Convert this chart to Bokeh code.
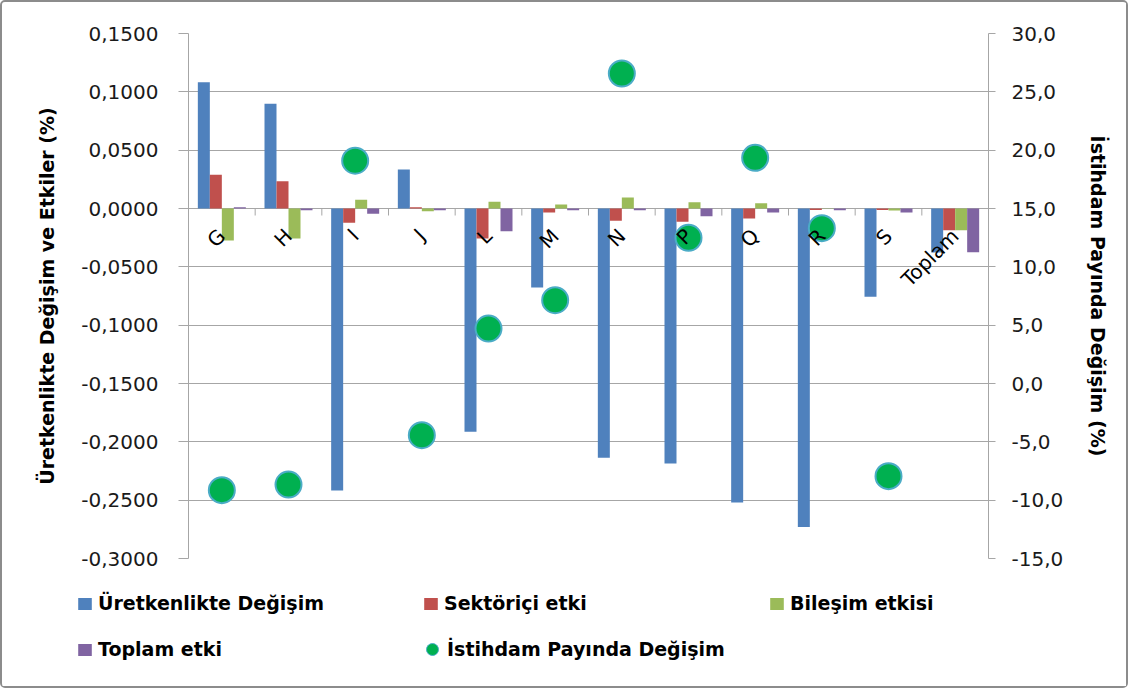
import math
from bokeh.plotting import figure
from bokeh.layouts import column
from bokeh.models import (Range1d, LinearAxis, FixedTicker, ColumnDataSource,
                          Legend, LegendItem)
from bokeh.transform import dodge
from bokeh.core.properties import value
from bokeh.embed import file_html
from bokeh.resources import INLINE

# ---------------- data ----------------
categories = ["G", "H", "I", "J", "L", "M", "N", "P", "Q", "R", "S", "Toplam"]
uretkenlik = [0.1083, 0.0897, -0.2417, 0.0334, -0.1914, -0.0677, -0.2137, -0.2186, -0.2520, -0.2729, -0.0757, -0.0377]
sektorici = [0.0289, 0.0234, -0.0123, 0.0010, -0.0257, -0.0034, -0.0106, -0.0114, -0.0086, -0.0012, -0.0012, -0.0186]
bilesim = [-0.0274, -0.0257, 0.0075, -0.0023, 0.0057, 0.0034, 0.0094, 0.0054, 0.0045, 0.0002, -0.0018, -0.0186]
toplam_etki = [0.0010, -0.0015, -0.0045, -0.0015, -0.0194, -0.0015, -0.0015, -0.0066, -0.0034, -0.0015, -0.0034, -0.0374]
istihdam = [-9.14, -8.66, 19.10, -4.43, 4.71, 7.14, 26.57, 12.49, 19.34, 13.31, -7.94, float("nan")]

left_ticks = [-0.30, -0.25, -0.20, -0.15, -0.10, -0.05, 0.0, 0.05, 0.10, 0.15]
left_labels = ["-0,3000", "-0,2500", "-0,2000", "-0,1500", "-0,1000", "-0,0500",
               "0,0000", "0,0500", "0,1000", "0,1500"]
right_ticks = [-15, -10, -5, 0, 5, 10, 15, 20, 25, 30]
right_labels = ["-15,0", "-10,0", "-5,0", "0,0", "5,0", "10,0", "15,0", "20,0", "25,0", "30,0"]

series_names = ["Üretkenlikte Değişim", "Sektöriçi etki", "Bileşim etkisi", "Toplam etki"]
scatter_name = "İstihdam Payında Değişim"
left_title = "Üretkenlikte Değişim ve Etkiler (%)"
right_title = "İstihdam Payında Değişim (%)"

# ---------------- styles ----------------
colors = ["#4F81BD", "#C0504D", "#9BBB59", "#8064A2"]
dot_fill, dot_line = "#00B050", "#4BACC6"
offsets = [-0.27, -0.09, 0.09, 0.27]
bar_w = 0.18
grid_col = "#a6a6a6"
FONT = "DejaVu Sans"

n = len(categories)
src = ColumnDataSource(dict(
    x=list(range(n)), cat=categories,
    s0=uretkenlik, s1=sektorici, s2=bilesim, s3=toplam_etki, ist=istihdam,
))

W = 1124
H1, H2 = 576, 108

p = figure(width=W, height=H1, output_backend="svg", toolbar_location=None,
           x_range=Range1d(-0.5, n - 0.5), y_range=Range1d(left_ticks[0], left_ticks[-1]),
           x_axis_location=None, min_border_left=186, min_border_top=31,
           min_border_right=138, min_border_bottom=20)
p.frame_align = False
p.outline_line_color = None
p.background_fill_color = "white"
p.border_fill_color = "white"

p.extra_y_ranges = {"right": Range1d(right_ticks[0], right_ticks[-1])}

# grid
p.xgrid.visible = False
p.ygrid.ticker = FixedTicker(ticks=left_ticks)
p.ygrid.grid_line_color = grid_col
p.ygrid.grid_line_width = 1

# left axis
ya = p.yaxis[0]
ya.ticker = FixedTicker(ticks=left_ticks)
ya.major_label_overrides = dict(zip(left_ticks, left_labels))
ya.axis_line_color = grid_col
ya.major_tick_line_color = grid_col
ya.major_tick_out = 10
ya.major_tick_in = 0
ya.minor_tick_line_color = None
ya.major_label_standoff = 20
ya.major_label_text_font = FONT
ya.major_label_text_font_size = "20px"
ya.major_label_text_color = "#1a1a1a"
ya.axis_label = left_title
ya.axis_label_text_font = FONT
ya.axis_label_text_font_style = "bold"
ya.axis_label_text_font_size = "19px"
ya.axis_label_text_color = "black"
ya.axis_label_standoff = 20

# right axis
ra = LinearAxis(y_range_name="right", ticker=FixedTicker(ticks=right_ticks))
ra.major_label_overrides = dict(zip(right_ticks, right_labels))
ra.axis_line_color = grid_col
ra.major_tick_line_color = grid_col
ra.major_tick_out = 7
ra.major_tick_in = 0
ra.minor_tick_line_color = None
ra.major_label_standoff = 16
ra.major_label_text_font = FONT
ra.major_label_text_font_size = "20px"
ra.major_label_text_color = "#1a1a1a"
ra.axis_label = right_title
ra.axis_label_text_font = FONT
ra.axis_label_text_font_style = "bold"
ra.axis_label_text_font_size = "19px"
ra.axis_label_text_color = "black"
ra.axis_label_standoff = 21
p.add_layout(ra, "right")

# category-axis ticks at zero line (between categories)
tick_src = ColumnDataSource(dict(x=[i + 0.5 for i in range(n - 1)]))
p.segment(x0="x", x1="x", y0=0, y1=-0.006, source=tick_src,
          line_color=grid_col, line_width=1)

# bars
for k in range(4):
    p.vbar(x=dodge("x", offsets[k], range=p.x_range), top="s%d" % k, bottom=0,
           width=bar_w, source=src, fill_color=colors[k], line_color=None)

# scatter on right axis
p.scatter(x="x", y="ist", source=src, y_range_name="right", size=26,
          marker="circle", fill_color=dot_fill, line_color=dot_line, line_width=2)

# category labels (rotated)
p.text(x="x", y=0, text="cat", source=src, angle=math.pi / 4,
       text_align="right", text_baseline="middle", x_offset=0, y_offset=24,
       text_font=value(FONT), text_font_size="20px", text_color="black")

# ---------------- legend strip ----------------
q = figure(width=W, height=H2, output_backend="svg", toolbar_location=None,
           x_range=Range1d(0, 1), y_range=Range1d(0, 1),
           x_axis_location=None, y_axis_location=None,
           min_border_left=0, min_border_right=0, min_border_top=0, min_border_bottom=0)
q.frame_align = False
q.outline_line_color = None
q.xgrid.visible = False
q.ygrid.visible = False
q.border_fill_color = "white"

# legend-only renderers (their single point lies outside the visible range)
hidden = ColumnDataSource(dict(x=[-5.0], y=[-5.0]))
leg_bars = [q.vbar(x="x", top="y", width=0.1, source=hidden, fill_color=colors[k], line_color=None)
            for k in range(4)]
leg_dot = q.scatter(x="x", y="y", source=hidden, marker="circle", size=12,
                    fill_color=dot_fill, line_color=dot_line, line_width=1)

leg1 = Legend(items=[LegendItem(label=series_names[k], renderers=[leg_bars[k]])
                     for k in range(4)],
              location=(74, 17), orientation="horizontal", ncols=3,
              glyph_width=17, glyph_height=15, label_standoff=5,
              label_width=318, label_height=40, spacing=6, padding=0, margin=0,
              border_line_color=None, background_fill_alpha=0,
              label_text_font=FONT, label_text_font_style="bold",
              label_text_font_size="19px", label_text_color="black")
leg2 = Legend(items=[LegendItem(label=scatter_name, renderers=[leg_dot])],
              location=(415, 22), orientation="horizontal",
              glyph_width=30, glyph_height=30, label_standoff=-11,
              label_height=30, spacing=0, padding=0, margin=0,
              border_line_color=None, background_fill_alpha=0,
              label_text_font=FONT, label_text_font_style="bold",
              label_text_font_size="19px", label_text_color="black")
q.add_layout(leg1, "center")
q.add_layout(leg2, "center")

layout = column(p, q, spacing=0,
                styles={"border": "2px solid #8c8c8c", "border-radius": "5px"})

open("out.html", "w").write(file_html(layout, INLINE))
